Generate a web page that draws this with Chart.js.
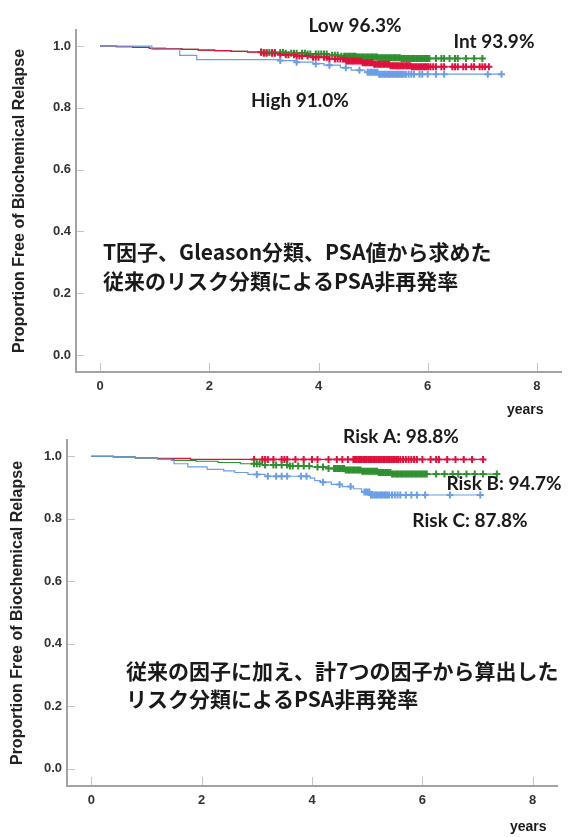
<!DOCTYPE html>
<html>
<head>
<meta charset="utf-8">
<script src="https://cdn.jsdelivr.net/npm/chart.js"></script>
<style>
  body { margin: 0; background: #fff; }
  .wrap { position: absolute; left: 0; }
</style>
</head>
<body>
<div class="wrap" style="top:0"><canvas id="top" width="576" height="420"></canvas></div>
<div class="wrap" style="top:420px"><canvas id="bottom" width="576" height="417"></canvas></div>
<script>
// x ticks / y ticks
const xTicks = [0, 2, 4, 6, 8];
const yTicks = [0, 0.2, 0.4, 0.6, 0.8, 1.0];

// top chart: conventional risk groups, KM steps [years, proportion]
const lowSteps = [[0,1],[0.3,0.998],[0.6,0.996],[0.9,0.993],[1.2,0.991],[1.5,0.989],[1.8,0.987],[2.1,0.985],[2.4,0.983],[2.7,0.981],[3.0,0.979],[3.4,0.977],[3.8,0.974],[4.2,0.970],[4.4,0.967],[4.7,0.965],[5.1,0.962],[5.5,0.960],[7.05,0.960]];
const intSteps = [[0,1],[0.3,0.998],[0.6,0.996],[0.9,0.993],[1.2,0.991],[1.5,0.989],[1.8,0.987],[2.1,0.985],[2.4,0.983],[2.7,0.980],[3.0,0.977],[3.3,0.972],[3.6,0.968],[3.9,0.964],[4.2,0.958],[4.5,0.952],[4.8,0.946],[5.0,0.941],[5.3,0.936],[5.7,0.933],[7.14,0.933]];
const highSteps = [[0,1],[0.95,0.989],[1.46,0.970],[1.77,0.956],[3.3,0.953],[3.6,0.948],[3.9,0.943],[4.1,0.938],[4.4,0.930],[4.6,0.922],[4.85,0.915],[5.1,0.909],[7.36,0.909]];

const lowCensor = [2.95,3.0,3.05,3.1,3.15,3.2,3.3,3.35,3.4,3.5,3.55,3.6,3.7,3.75,3.8,3.85,3.95,4.0,4.05,4.1,4.15,4.25,4.3,4.35,4.42,4.47,
  4.5,4.53,4.56,4.59,4.62,4.65,4.68,4.71,4.74,4.77,4.8,4.83,4.86,4.89,4.92,4.95,4.98,5.01,5.04,5.07,5.1,5.13,5.16,5.19,5.22,5.25,5.28,5.31,5.34,5.37,5.4,5.43,5.46,5.49,5.52,5.55,5.58,5.61,5.64,5.67,5.7,5.73,5.76,5.79,5.82,5.85,5.88,5.91,5.94,5.97,6.0,6.03,
  6.15,6.25,6.3,6.4,6.5,6.55,6.7,6.85,7.0];
const intCensor = [2.95,3.0,3.05,3.15,3.2,3.3,3.4,3.45,3.55,3.6,3.65,3.7,3.8,3.9,3.95,4.0,4.1,4.15,4.2,4.3,4.35,4.4,
  4.45,4.48,4.51,4.54,4.57,4.6,4.63,4.66,4.69,4.72,4.75,4.78,4.81,4.84,4.87,4.9,4.93,4.96,4.99,5.02,5.05,5.08,5.11,5.14,5.17,5.2,5.23,5.26,5.29,5.32,5.35,5.38,5.41,5.44,5.47,5.5,5.53,5.56,5.59,5.62,5.65,5.68,5.71,5.74,5.77,5.8,5.83,5.86,5.89,5.92,5.95,5.98,6.01,6.05,
  6.1,6.15,6.25,6.3,6.45,6.5,6.55,6.65,6.7,6.8,6.85,6.95,7.0,7.05,7.12];
const highCensor = [3.3,3.6,3.95,4.2,4.5,4.75,4.9,4.93,4.96,4.99,5.02,5.05,5.08,5.11,5.14,5.17,5.2,5.23,5.26,5.29,5.32,5.35,5.38,5.41,5.44,5.47,5.5,5.53,5.56,5.6,5.65,5.7,5.75,5.85,5.9,6.0,6.15,6.3,7.1,7.35];

// bottom chart: 7-factor risk groups
const riskASteps = [[0,1],[0.4,0.998],[0.8,0.995],[1.2,0.993],[1.8,0.990],[7.13,0.990]];
const riskBSteps = [[0,1],[0.4,0.998],[0.8,0.995],[1.2,0.990],[1.5,0.987],[1.9,0.984],[2.3,0.980],[2.7,0.976],[3.1,0.972],[3.6,0.969],[4.0,0.966],[4.3,0.961],[4.6,0.956],[4.9,0.952],[5.2,0.948],[5.45,0.943],[7.37,0.943]];
const riskCSteps = [[0,1],[0.4,0.998],[0.8,0.995],[1.2,0.990],[1.45,0.987],[1.5,0.976],[1.75,0.966],[2.1,0.958],[2.4,0.953],[2.6,0.948],[2.84,0.942],[3.15,0.936],[3.97,0.930],[4.05,0.922],[4.15,0.917],[4.35,0.910],[4.55,0.903],[4.75,0.896],[4.9,0.886],[5.05,0.876],[7.07,0.876]];

const riskACensor = [2.95,3.1,3.15,3.2,3.3,3.45,3.5,3.55,3.7,3.85,4.0,4.1,4.3,4.45,4.55,4.65,
  4.75,4.78,4.81,4.84,4.87,4.9,4.93,4.96,4.99,5.02,5.05,5.08,5.11,5.14,5.17,5.2,5.23,5.26,5.29,5.32,5.35,5.38,5.41,5.44,5.47,5.5,5.53,5.56,5.6,5.65,5.7,5.75,5.8,5.85,5.9,
  6.0,6.15,6.25,6.3,6.45,6.6,6.75,6.9,7.1];
const riskBCensor = [2.95,3.0,3.05,3.15,3.3,3.35,3.45,3.55,3.6,3.65,3.75,3.85,3.95,4.1,4.2,4.3,
  4.4,4.43,4.46,4.49,4.52,4.55,4.58,4.61,4.64,4.67,4.7,4.73,4.76,4.79,4.82,4.85,4.88,4.91,4.94,4.97,5.0,5.03,5.06,5.09,5.12,5.15,5.18,5.21,5.24,5.27,5.3,5.33,5.36,5.39,5.42,5.45,5.48,5.51,5.54,5.57,5.6,5.63,5.66,5.69,5.72,5.75,5.78,5.81,5.84,5.87,5.9,5.93,5.96,5.99,6.02,6.05,6.08,
  6.25,6.4,6.55,6.65,6.8,6.95,7.1,7.35];
const riskCCensor = [3.0,3.2,3.35,3.45,3.55,3.8,3.9,4.2,4.5,4.7,
  4.95,4.98,5.01,5.04,5.07,5.1,5.13,5.16,5.19,5.22,5.25,5.28,5.31,5.34,5.37,5.4,5.45,5.5,5.55,5.6,5.7,5.8,5.9,6.05,6.5,7.05];

const topNotes = ['Low 96.3%', 'Int 93.9%', 'High 91.0%'];
const topCaption = ['T因子、Gleason分類、PSA値から求めた', '従来のリスク分類によるPSA非再発率'];
const bottomNotes = ['Risk A: 98.8%', 'Risk B: 94.7%', 'Risk C: 87.8%'];
const bottomCaption = ['従来の因子に加え、計7つの因子から算出した', 'リスク分類によるPSA非再発率'];

const GREEN = '#2e902e';
const RED = '#e0103c';
const BLUE = '#6a9ee6';

function survAt(steps, t) {
  let s = steps[0][1];
  for (const p of steps) { if (p[0] <= t) s = p[1]; }
  return s;
}

function curve(steps, color) {
  return {
    data: steps.map(p => ({ x: p[0], y: p[1] })),
    showLine: true, stepped: true, borderColor: color, borderWidth: 1.2,
    pointRadius: 0, fill: false
  };
}

function censor(steps, times, color) {
  return {
    data: times.map(t => ({ x: t, y: survAt(steps, t) })),
    showLine: false, pointStyle: 'cross', pointRadius: 3.5,
    borderColor: color, borderWidth: 2, backgroundColor: color
  };
}

const textPlugin = {
  id: 'notes',
  afterDraw(chart, args, opts) {
    const ctx = chart.ctx;
    ctx.save();
    // inward tick marks
    const xs = chart.scales.x, ys = chart.scales.y;
    ctx.strokeStyle = '#c4c4c4';
    ctx.lineWidth = 1;
    xTicks.forEach(v => {
      const px = Math.round(xs.getPixelForValue(v)) + 0.5;
      ctx.beginPath(); ctx.moveTo(px, chart.chartArea.bottom - 9); ctx.lineTo(px, chart.chartArea.bottom - 1); ctx.stroke();
    });
    yTicks.forEach(v => {
      const py = Math.round(ys.getPixelForValue(v)) + 0.5;
      ctx.beginPath(); ctx.moveTo(chart.chartArea.left + 1, py); ctx.lineTo(chart.chartArea.left + 8, py); ctx.stroke();
    });

    ctx.fillStyle = '#1a1a1a';
    ctx.textBaseline = 'middle';
    ctx.font = 'bold 19px Lato';
    ctx.textAlign = 'center';
    opts.notes.forEach(n => ctx.fillText(n.text, n.x, n.y));
    ctx.textAlign = 'left';
    ctx.font = 'bold 21px "Noto Sans CJK JP"';
    opts.caption.forEach(c => ctx.fillText(c.text, c.x, c.y));
    ctx.font = 'bold 14px "Liberation Sans"';
    ctx.fillText('years', opts.years.x, opts.years.y);
    ctx.restore();
  }
};

function makeChart(id, datasets, box, plugOpts) {
  return new Chart(document.getElementById(id), {
    type: 'scatter',
    data: { datasets },
    plugins: [textPlugin],
    options: {
      responsive: false,
      animation: false,
      devicePixelRatio: 1,
      layout: { padding: { left: 0, top: box.top, right: box.right, bottom: 0 } },
      plugins: { legend: { display: false }, tooltip: { enabled: false }, notes: plugOpts },
      scales: {
        x: {
          type: 'linear', min: -0.44, max: 8.44,
          afterFit: s => { s.height = box.xHeight; },
          afterBuildTicks: s => { s.ticks = xTicks.map(v => ({ value: v })); },
          grid: { drawOnChartArea: false, drawTicks: false },
          border: { display: true, color: '#a3a3a3', width: 2 },
          ticks: { padding: 7, color: '#333', font: { family: 'Liberation Sans', size: 13, weight: 'bold' } }
        },
        y: {
          type: 'linear', min: -0.055, max: 1.052,
          afterFit: s => { s.width = box.left; },
          afterBuildTicks: s => { s.ticks = yTicks.map(v => ({ value: v })); },
          grid: { drawOnChartArea: false, drawTicks: false },
          border: { display: true, color: '#a3a3a3', width: 2 },
          ticks: { padding: 5, color: '#333', callback: v => v.toFixed(1), font: { family: 'Liberation Sans', size: 13, weight: 'bold' } },
          title: {
            display: true, text: 'Proportion Free of Biochemical Relapse', color: '#222',
            padding: { top: box.titlePad, bottom: 0 },
            font: { family: 'Liberation Sans', size: 16, weight: 'bold' }
          }
        }
      }
    }
  });
}

makeChart('top', [
  curve(highSteps, BLUE), curve(intSteps, RED), curve(lowSteps, GREEN),
  censor(highSteps, highCensor, BLUE), censor(intSteps, intCensor, RED), censor(lowSteps, lowCensor, GREEN)
], { top: 30, right: 15, left: 76, xHeight: 48, titlePad: 10 }, {
  notes: [
    { text: topNotes[0], x: 355, y: 26 },
    { text: topNotes[1], x: 494, y: 42 },
    { text: topNotes[2], x: 300, y: 101 }
  ],
  caption: [
    { text: topCaption[0], x: 103, y: 252 },
    { text: topCaption[1], x: 103, y: 281 }
  ],
  years: { x: 507, y: 410 }
});

makeChart('bottom', [
  curve(riskCSteps, BLUE), curve(riskBSteps, GREEN), curve(riskASteps, RED),
  censor(riskCSteps, riskCCensor, BLUE), censor(riskBSteps, riskBCensor, GREEN), censor(riskASteps, riskACensor, RED)
], { top: 20, right: 19, left: 67, xHeight: 51, titlePad: 8 }, {
  notes: [
    { text: bottomNotes[0], x: 401, y: 17 },
    { text: bottomNotes[1], x: 504, y: 64 },
    { text: bottomNotes[2], x: 470, y: 101 }
  ],
  caption: [
    { text: bottomCaption[0], x: 126, y: 251 },
    { text: bottomCaption[1], x: 126, y: 279 }
  ],
  years: { x: 510, y: 407 }
});
</script>
</body>
</html>
